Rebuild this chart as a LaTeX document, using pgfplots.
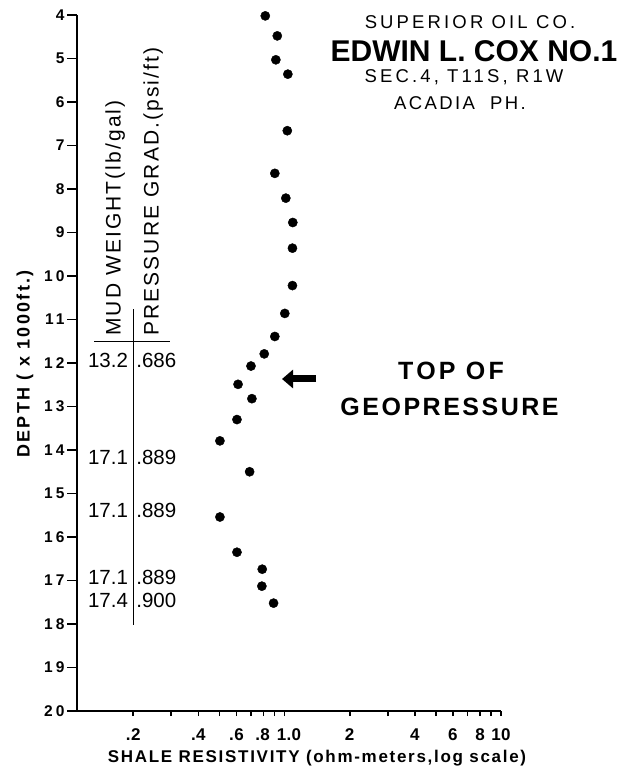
\documentclass[border=0pt]{standalone}
\usepackage{fontspec}
\setmainfont{Liberation Sans}
\newfontfamily\lsA[LetterSpace=10]{Liberation Sans}
\newfontfamily\lsB[LetterSpace=17]{Liberation Sans}
\newfontfamily\lsC[LetterSpace=20]{Liberation Sans}
\newfontfamily\lsD[LetterSpace=13]{Liberation Sans}
\newfontfamily\lsE[LetterSpace=2]{Liberation Sans}
\usepackage{pgfplots}
\pgfplotsset{compat=1.18}
\usetikzlibrary{arrows.meta}
\pgfplotstableread{
x y
0.815 4.02
0.926 4.48
0.912 5.03
1.036 5.36
1.03 6.66
0.902 7.64
1.014 8.21
1.092 8.77
1.088 9.36
1.088 10.22
1.003 10.86
0.902 11.39
0.806 11.79
0.70 12.07
0.61 12.49
0.707 12.82
0.603 13.30
0.503 13.79
0.69 14.50
0.503 15.54
0.603 16.35
0.789 16.74
0.786 17.13
0.89 17.52
}\datatab
\begin{document}
\begin{tikzpicture}[x=1pt,y=1pt]
\begin{axis}[at={(0,0)}, anchor=south west, scale only axis,
  width=424pt, height=696pt,
  xmode=log, xmin=0.11, xmax=10, ymin=4, ymax=20, y dir=reverse,
  axis lines*=left, axis line style={line width=1.9pt},
  tick align=outside, major tick length=10pt,
  every tick/.style={black, line width=1.7pt},
  xtick style={/pgfplots/major tick length=5pt},
  xtick={0.2,0.3,0.4,0.5,0.6,0.7,0.8,0.9,1,2,3,4,5,6,7,8,9,10},
  xticklabels={.2,,.4,,.6,,{\hspace*{-2pt}.8},,{\hspace*{9pt}1.0},2,,4,,6,,8,,10},
  minor xtick={}, 
  ytick={4,5,...,20},
  yticklabels={4,5,6,7,8,9,10,11,12,13,14,15,16,17,18,19,20},
  xticklabel style={font=\lsE\fontsize{17}{17}\selectfont\bfseries, yshift=-4pt},
  yticklabel style={font=\lsC\fontsize{15.5}{15.5}\selectfont\bfseries, xshift=1pt},
  clip=false]
\addplot[only marks, mark=*, mark size=4.6pt, black] table[x=x,y=y]{\datatab};
\draw[line width=1.2pt] (axis cs:0.2,10.76) -- (axis cs:0.2,18.02);
\draw[line width=1.2pt] (axis cs:0.132,11.5) -- (axis cs:0.295,11.5);
\begin{scope}[font=\fontsize{20.5}{20.5}\selectfont]
\node[xshift=-8pt, rotate=90, anchor=south west, inner sep=0pt, font=\lsA\fontsize{21}{21}\selectfont] at (axis cs:0.2,11.38) {MUD WEIGHT(lb/gal)};
\node[xshift=10pt, rotate=90, anchor=north west, inner sep=0pt, font=\lsA\fontsize{21}{21}\selectfont] at (axis cs:0.2,11.38) {PRESSURE GRAD.(psi/ft)};
\node[anchor=east, inner sep=0pt, xshift=-5pt] at (axis cs:0.2,11.93) {13.2};
\node[anchor=west, inner sep=0pt, xshift=3pt] at (axis cs:0.2,11.93) {.686};
\node[anchor=east, inner sep=0pt, xshift=-5pt] at (axis cs:0.2,14.18) {17.1};
\node[anchor=west, inner sep=0pt, xshift=3pt] at (axis cs:0.2,14.18) {.889};
\node[anchor=east, inner sep=0pt, xshift=-5pt] at (axis cs:0.2,15.38) {17.1};
\node[anchor=west, inner sep=0pt, xshift=3pt] at (axis cs:0.2,15.38) {.889};
\node[anchor=east, inner sep=0pt, xshift=-5pt] at (axis cs:0.2,16.94) {17.1};
\node[anchor=west, inner sep=0pt, xshift=3pt] at (axis cs:0.2,16.94) {.889};
\node[anchor=east, inner sep=0pt, xshift=-5pt] at (axis cs:0.2,17.45) {17.4};
\node[anchor=west, inner sep=0pt, xshift=3pt] at (axis cs:0.2,17.45) {.900};
\end{scope}
\end{axis}
\draw[line width=7pt, -{Triangle[length=11pt,width=18pt]}] (239,332) -- (205,332);
\node[anchor=base, inner sep=0pt, font=\lsB\fontsize{18.5}{18.5}\selectfont] at (393,682.7) {SUPERIOR OIL CO.};
\node[anchor=base, inner sep=0pt, font=\fontsize{30}{30}\selectfont\bfseries] at (397,649) {EDWIN L. COX NO.1};
\node[anchor=base, inner sep=0pt, font=\lsB\fontsize{18.5}{18.5}\selectfont] at (387,628) {SEC.4, T11S, R1W};
\node[anchor=base, inner sep=0pt, font=\lsD\fontsize{18.5}{18.5}\selectfont] at (383,601) {ACADIA\ \ PH.};
\node[anchor=base, inner sep=0pt, font=\lsD\fontsize{25}{25}\selectfont\bfseries] at (374,331) {TOP OF};
\node[anchor=base, inner sep=0pt, font=\lsA\fontsize{25}{25}\selectfont\bfseries] at (372.5,295) {GEOPRESSURE};
\node[anchor=base, inner sep=0pt, font=\lsA\fontsize{17}{17}\selectfont\bfseries] at (240,-51) {SHALE RESISTIVITY (ohm-meters,log scale)};
\node[font=\lsD\fontsize{18}{18}\selectfont\bfseries, rotate=90, inner sep=0pt] at (-52,347) {DEPTH ( x 1000ft.)};
\pgfresetboundingbox
\useasboundingbox (-77,-57) rectangle (558,711);
\end{tikzpicture}
\end{document}
